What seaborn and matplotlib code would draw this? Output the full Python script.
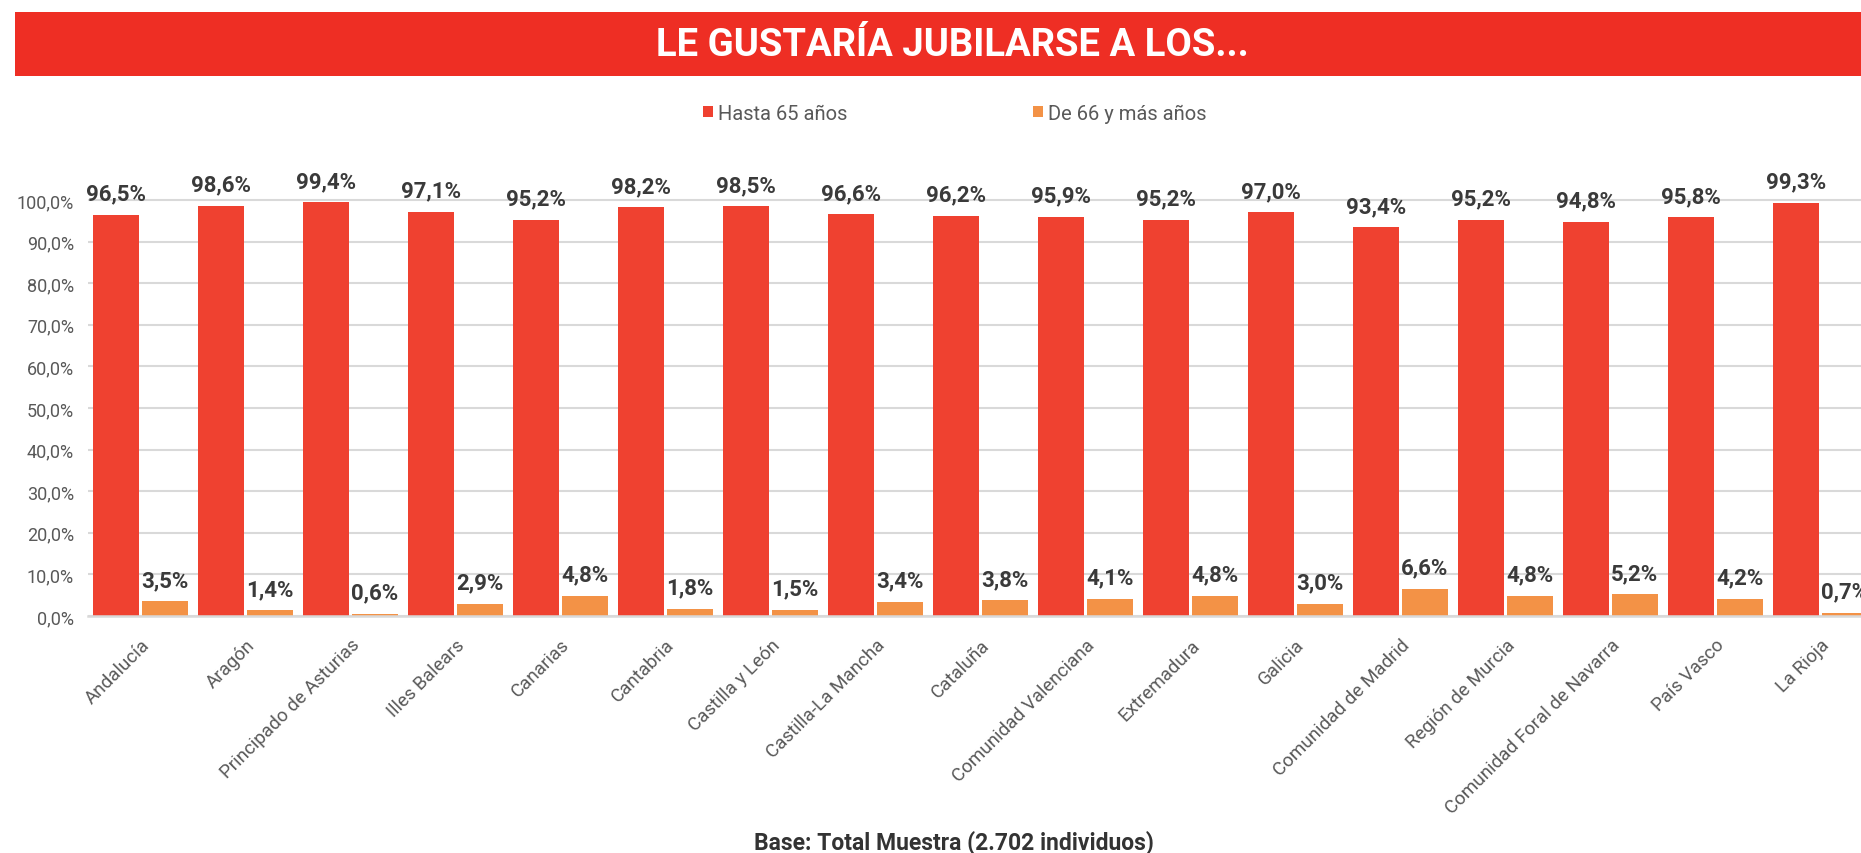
import matplotlib
matplotlib.use("Agg")
import matplotlib.pyplot as plt
from matplotlib.patches import Rectangle, Patch
from matplotlib.ticker import FixedLocator, FuncFormatter
import seaborn as sns
import pandas as pd

regions = ["Andalucía", "Aragón", "Principado de Asturias", "Illes Balears", "Canarias",
           "Cantabria", "Castilla y León", "Castilla-La Mancha", "Cataluña",
           "Comunidad Valenciana", "Extremadura", "Galicia", "Comunidad de Madrid",
           "Región de Murcia", "Comunidad Foral de Navarra", "País Vasco", "La Rioja"]
hasta_65 = [96.5, 98.6, 99.4, 97.1, 95.2, 98.2, 98.5, 96.6, 96.2, 95.9, 95.2, 97.0, 93.4,
            95.2, 94.8, 95.8, 99.3]
de_66 = [3.5, 1.4, 0.6, 2.9, 4.8, 1.8, 1.5, 3.4, 3.8, 4.1, 4.8, 3.0, 6.6, 4.8, 5.2, 4.2, 0.7]
series_names = ["Hasta 65 años", "De 66 y más años"]
y_ticks = [0, 10, 20, 30, 40, 50, 60, 70, 80, 90, 100]
title = "LE GUSTARÍA JUBILARSE A LOS..."
footer = "Base: Total Muestra (2.702 individuos)"

RED = "#EF4130"
ORANGE = "#F39246"
BAND = "#EE2E24"
GRID = "#D9D9D9"
TICK = "#595959"
DARK = "#3A3A3A"

df = pd.DataFrame({
    "region": regions * 2,
    "serie": [series_names[0]] * len(regions) + [series_names[1]] * len(regions),
    "valor": hasta_65 + de_66,
})

sns.set_theme(style="white")
plt.rcParams["font.family"] = ["Roboto", "DejaVu Sans"]

W, H = 1861, 854
fig = plt.figure(figsize=(W / 100, H / 100), dpi=100)

# axes placement (pixel based)
ax_left, ax_right, ax_bottom = 88, 1873, 617
ymax = 110
px_per_unit = (617 - 201) / 100.0
ax_top = ax_bottom - ymax * px_per_unit
ax = fig.add_axes([ax_left / W, (H - ax_bottom) / H, (ax_right - ax_left) / W,
                   (ax_bottom - ax_top) / H])

sns.barplot(data=df, x="region", y="valor", hue="serie", order=regions,
            hue_order=series_names, palette=[RED, ORANGE], width=0.92, gap=0.05,
            saturation=1, ax=ax, legend=False, linewidth=0, errorbar=None)

ax.set_xlim(-0.5, len(regions) - 0.5)
ax.set_ylim(0, ymax)
ax.yaxis.set_major_locator(FixedLocator(y_ticks))
ax.yaxis.set_major_formatter(FuncFormatter(lambda v, p: f"{v:.1f}%".replace(".", ",")))
ax.grid(axis="y", color=GRID, linewidth=1.5)
ax.set_axisbelow(True)
for s in ["top", "right", "left"]:
    ax.spines[s].set_visible(False)
ax.spines["bottom"].set_color(GRID)
ax.spines["bottom"].set_linewidth(1.8)
ax.set_xlabel("")
ax.set_ylabel("")
ax.tick_params(axis="y", length=0, pad=10, labelsize=13, labelcolor=TICK)
ax.tick_params(axis="x", length=0, pad=14, labelsize=13.5, labelcolor=TICK)
for lab in ax.get_xticklabels():
    lab.set_rotation(45)
    lab.set_ha("right")
    lab.set_va("top")
    lab.set_rotation_mode("anchor")

# data labels
for cont in ax.containers:
    for bar in cont:
        h = bar.get_height()
        ax.annotate(f"{h:.1f}%".replace(".", ","),
                    (bar.get_x() + bar.get_width() / 2, h),
                    xytext=(0, 11), textcoords="offset points",
                    ha="center", va="baseline", fontsize=16, fontweight="bold",
                    color=DARK, annotation_clip=False)

# title band
fig.patches.append(Rectangle((15 / W, (H - 77) / H), 1 - 15 / W, 64 / H,
                             transform=fig.transFigure, facecolor=BAND,
                             edgecolor="none", zorder=0))
fig.text(952 / W, (H - 46) / H, title, ha="center", va="center", color="white",
         fontsize=27.5, fontweight="bold")

# legend
handles = [Patch(facecolor=RED, edgecolor="none"), Patch(facecolor=ORANGE, edgecolor="none")]
fig.legend(handles, series_names, loc="center", bbox_to_anchor=(955 / W, (H - 114) / H),
           ncol=2, frameon=False, fontsize=14.5, labelcolor=TICK, handlelength=0.5,
           handleheight=0.5, handletextpad=0.25, columnspacing=9.2)

# footer
fig.text(954 / W, (H - 843) / H, footer, ha="center", va="center", color="#333333",
         fontsize=16.5, fontweight="bold")

fig.savefig("out.png", dpi=100)
